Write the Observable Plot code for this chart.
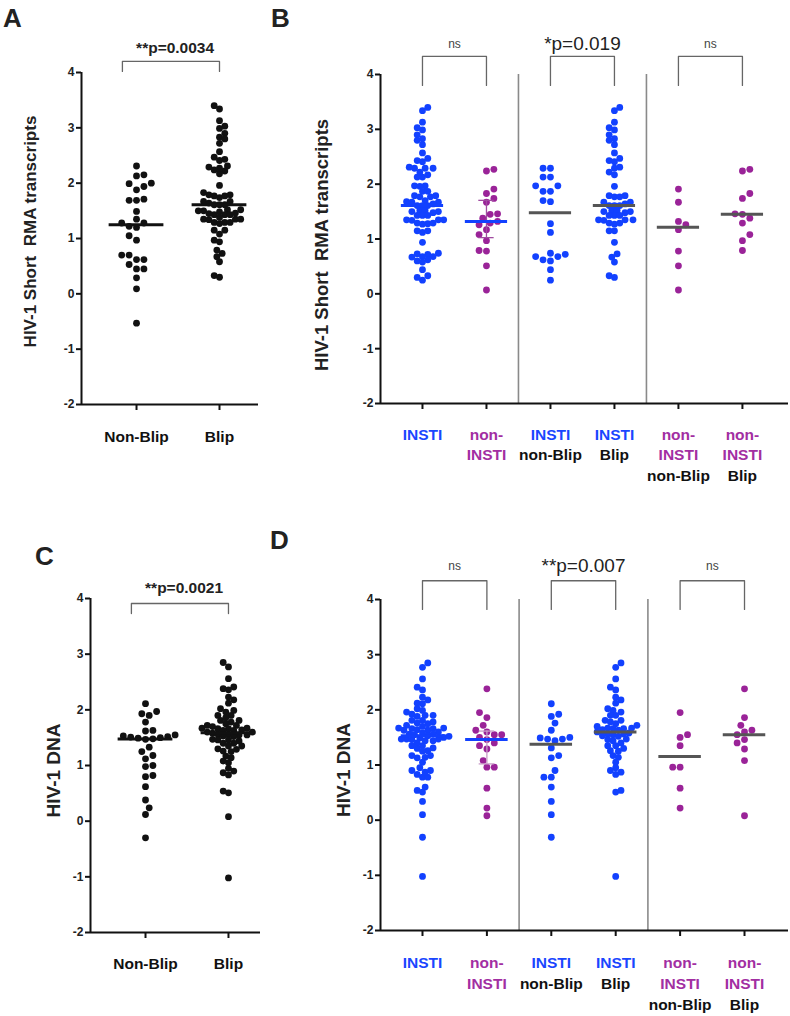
<!DOCTYPE html>
<html><head><meta charset="utf-8">
<script src="https://cdn.jsdelivr.net/npm/d3@7"></script>
<script src="https://cdn.jsdelivr.net/npm/@observablehq/plot@0.6"></script>
<style>
body{margin:0;background:#fff;font-family:"Liberation Sans",Arial,sans-serif;}
#fig{position:relative;width:790px;height:1016px;overflow:hidden;background:#fff;}
#fig svg{position:absolute;}
.letter{position:absolute;font-size:26px;font-weight:bold;line-height:1;color:#222;}
</style></head><body><div id="fig"></div>
<script>
// ---------- data ----------
const yTicks = [-2, -1, 0, 1, 2, 3, 4];
const overviewCats = ["Non-Blip", "Blip"];
const drugClass = ["INSTI", "non-INSTI", "INSTI", "INSTI", "non-INSTI", "non-INSTI"];
const blipStatus = [null, null, "non-Blip", "Blip", "non-Blip", "Blip"];

const rnaYLabel = "HIV-1 Short\u00a0 RMA transcripts";
const dnaYLabel = "HIV-1 DNA";
const rnaOverviewP = "**p=0.0034";
const dnaOverviewP = "**p=0.0021";
const rnaCompLabels = ["ns", "*p=0.019", "ns"];
const dnaCompLabels = ["ns", "**p=0.007", "ns"];

// HIV-1 short RNA transcripts
const rnaNonBlip = [2.31, 2.15, 2.13, 2.00, 1.99, 1.94, 1.88, 1.71, 1.69, 1.69, 1.49, 1.35, 1.28, 1.28, 1.22, 1.20, 1.05, 0.97, 0.70, 0.70, 0.62, 0.62, 0.53, 0.45, 0.45, 0.29, 0.09, -0.53];
const rnaInstiNonBlip = [2.29, 2.29, 2.13, 2.13, 1.97, 1.97, 1.87, 1.87, 1.70, 1.68, 1.28, 1.12, 0.74, 0.72, 0.68, 0.68, 0.62, 0.60, 0.44, 0.25];
const rnaInstiBlip = [3.40, 3.34, 3.13, 3.03, 2.99, 2.90, 2.83, 2.80, 2.72, 2.57, 2.47, 2.43, 2.41, 2.31, 2.29, 2.22, 2.17, 1.96, 1.79, 1.79, 1.77, 1.77, 1.67, 1.67, 1.64, 1.61, 1.61, 1.61, 1.52, 1.52, 1.50, 1.50, 1.48, 1.43, 1.43, 1.43, 1.35, 1.35, 1.35, 1.34, 1.29, 1.29, 1.27, 1.15, 1.15, 0.94, 0.73, 0.67, 0.58, 0.33, 0.30];
const rnaNonInstiNonBlip = [1.91, 1.67, 1.32, 1.26, 1.17, 0.78, 0.51, 0.07];
const rnaNonInstiBlip = [2.27, 2.24, 1.83, 1.74, 1.46, 1.45, 1.38, 1.29, 1.08, 0.97, 0.79];

// HIV-1 DNA
const dnaNonBlip = [2.11, 1.97, 1.93, 1.90, 1.78, 1.63, 1.62, 1.55, 1.53, 1.52, 1.51, 1.50, 1.49, 1.48, 1.47, 1.33, 1.25, 1.18, 1.12, 1.00, 0.98, 0.82, 0.80, 0.62, 0.38, 0.24, 0.12, -0.30];
const dnaInstiNonBlip = [2.11, 1.92, 1.88, 1.76, 1.63, 1.50, 1.49, 1.47, 1.47, 1.44, 1.31, 1.17, 1.13, 0.90, 0.78, 0.78, 0.60, 0.34, 0.10, -0.31];
const dnaInstiBlip = [2.85, 2.77, 2.56, 2.41, 2.36, 2.23, 2.18, 2.12, 2.02, 1.99, 1.96, 1.90, 1.90, 1.81, 1.81, 1.78, 1.75, 1.72, 1.70, 1.67, 1.67, 1.66, 1.66, 1.64, 1.63, 1.60, 1.58, 1.56, 1.56, 1.55, 1.53, 1.52, 1.47, 1.46, 1.44, 1.40, 1.35, 1.35, 1.30, 1.26, 1.25, 1.17, 1.14, 1.05, 0.95, 0.90, 0.87, 0.83, 0.54, 0.51, -1.02];
const dnaNonInstiNonBlip = [1.95, 1.55, 1.50, 1.35, 0.96, 0.96, 0.58, 0.22];
const dnaNonInstiBlip = [2.38, 1.86, 1.72, 1.63, 1.60, 1.55, 1.46, 1.40, 1.29, 1.08, 0.08];

// ---------- styling ----------
const BLUE = "#1241ff", PURPLE = "#9a2398", BLACK = "#111111", GRAY = "#555555";
const LBLUE = "#1a46ff", LPURPLE = "#a22ea2";
const FONT = "'Liberation Sans', Arial, sans-serif";

// simple beeswarm: grid step g, minimum centre distance m (pixels)
function swarm(vals, pxY, g, m) {
  const order = vals.map((_, i) => i).sort((a, b) => vals[a] - vals[b]);
  const placed = [], out = new Array(vals.length).fill(0);
  for (const i of order) {
    const y = vals[i] * pxY;
    let chosen = 0;
    outer: for (let k = 0; k < 80; k++) {
      const opts = k === 0 ? [0] : (placed.length % 2 ? [-k * g, k * g] : [k * g, -k * g]);
      for (const x of opts) {
        if (placed.every(p => (p.x - x) ** 2 + (p.y - y) ** 2 >= m * m)) { chosen = x; break outer; }
      }
    }
    placed.push({x: chosen, y}); out[i] = chosen;
  }
  return out;
}

function makePanel(cfg) {
  const pxY = (cfg.height - cfg.mt - cfg.mb) / 6;
  const pxX = (cfg.width - cfg.ml - cfg.mr) / (cfg.xDomain[1] - cfg.xDomain[0]);
  const dots = cfg.groups.flatMap((g, i) => {
    const m = g.values.length <= 30 ? 7.4 : 5.3;
    const off = swarm(g.values, pxY, m / 2, m);
    return g.values.map((v, j) => ({x: i + off[j] / pxX, y: v, c: g.color}));
  });
  const stats = cfg.groups.map((g, i) => {
    const s = d3.sort(g.values);
    return {x: i, med: d3.median(s), q1: d3.quantile(s, 0.25), q3: d3.quantile(s, 0.75), c: g.medColor, w: g.whisker};
  });
  const wh = stats.filter(s => s.w);
  const caps = wh.flatMap(s => [{x: s.x, y: s.q1, c: s.w}, {x: s.x, y: s.q3, c: s.w}]);
  const brk = cfg.brackets.flatMap((b, k) => [
    {k, x: b.a, y: cfg.bEnd}, {k, x: b.a, y: cfg.bTop}, {k, x: b.b, y: cfg.bTop}, {k, x: b.b, y: cfg.bEnd}]);
  const btext = cfg.brackets.map(b => ({x: (b.a + b.b) / 2 + (b.shift || 0), t: b.label, fs: b.fs, c: b.c}));
  const labelRows = cfg.labels.flatMap((lines, i) => lines.map((l, L) => ({x: i, L, t: l.t, c: l.c})));
  const marks = [
    Plot.ruleX(cfg.dividers, {x: d => d, y1: -2, y2: 4, stroke: "#8a8a8a", strokeWidth: 1.6}),
    Plot.dot(dots, {x: "x", y: "y", r: 3.4, fill: "c"}),
    Plot.ruleX(wh, {x: "x", y1: "q1", y2: "q3", stroke: "w", strokeWidth: 1.3}),
    Plot.ruleY(caps, {y: "y", x1: d => d.x - 0.12, x2: d => d.x + 0.12, stroke: "c", strokeWidth: 1.3}),
    Plot.ruleY(stats, {y: "med", x1: d => d.x - 0.33, x2: d => d.x + 0.33, stroke: "c", strokeWidth: 3}),
    Plot.ruleY([-2], {stroke: BLACK, strokeWidth: 2}),
    Plot.ruleX([cfg.xDomain[0]], {y1: -2, y2: 4, stroke: BLACK, strokeWidth: 2}),
    Plot.axisY({ticks: yTicks, tickFormat: d => String(d), tickSize: 5, tickPadding: 2, fontSize: 12, fontWeight: "bold", strokeWidth: 2, label: null, fill: "#222"}),
    Plot.axisX({ticks: d3.range(cfg.groups.length), tickFormat: () => "", tickSize: 6, strokeWidth: 2, label: null}),
    Plot.line(brk, {x: "x", y: "y", z: "k", stroke: "#666", strokeWidth: 1.3}),
    Plot.text(btext, {x: "x", y: () => cfg.tY, text: "t", fontSize: "fs", fontWeight: cfg.tWeight, fill: "c", lineAnchor: "middle"}),
    Plot.text([cfg.yLabel], {text: d => d, frameAnchor: "left", textAnchor: "middle", rotate: -90, dx: cfg.yDx, dy: cfg.yDy, fontSize: cfg.ySize, fontWeight: "bold", fill: "#222"})
  ];
  for (let L = 0; L < 3; L++) {
    const rows = labelRows.filter(r => r.L === L);
    if (rows.length) marks.push(Plot.text(rows, {x: "x", y: () => -2, dy: cfg.labelDy[L], text: "t", fill: "c", fontSize: cfg.labelSize, fontWeight: "bold", lineAnchor: "middle"}));
  }
  const svg = Plot.plot({
    width: cfg.width, height: cfg.height,
    marginLeft: cfg.ml, marginRight: cfg.mr, marginTop: cfg.mt, marginBottom: cfg.mb,
    x: {domain: cfg.xDomain},
    y: {domain: [-2, 4]},
    color: {type: "identity"},
    style: {fontFamily: FONT, color: BLACK, background: "transparent", overflow: "visible"},
    marks
  });
  svg.style.left = cfg.left + "px";
  svg.style.top = cfg.top + "px";
  return svg;
}

function detailGroups(base, whiskerColor) {
  return drugClass.map((dc, i) => {
    const color = dc === "INSTI" ? BLUE : PURPLE;
    const values = blipStatus[i] ? base[dc + "|" + blipStatus[i]] : [...base[dc + "|non-Blip"], ...base[dc + "|Blip"]];
    return {values, color, medColor: blipStatus[i] ? GRAY : BLUE, whisker: (!blipStatus[i] && dc !== "INSTI") ? whiskerColor : null};
  });
}
function detailLabels() {
  return drugClass.map((dc, i) => {
    const c = dc === "INSTI" ? LBLUE : LPURPLE;
    const lines = (dc.startsWith("non-") ? ["non-", dc.slice(4)] : [dc]).map(t => ({t, c}));
    if (blipStatus[i]) lines.push({t: blipStatus[i], c: "#111"});
    return lines;
  });
}

const rnaBase = {"INSTI|non-Blip": rnaInstiNonBlip, "INSTI|Blip": rnaInstiBlip, "non-INSTI|non-Blip": rnaNonInstiNonBlip, "non-INSTI|Blip": rnaNonInstiBlip};
const dnaBase = {"INSTI|non-Blip": dnaInstiNonBlip, "INSTI|Blip": dnaInstiBlip, "non-INSTI|non-Blip": dnaNonInstiNonBlip, "non-INSTI|Blip": dnaNonInstiBlip};
const ovLabels = overviewCats.map(t => [{t, c: "#111"}]);

const fig = document.getElementById("fig");

// Panel A
fig.appendChild(makePanel({
  left: 0, top: 0, width: 262, height: 495, ml: 81, mr: 4, mt: 72, mb: 91,
  xDomain: [-0.663, 1.47],
  groups: [
    {values: rnaNonBlip, color: BLACK, medColor: BLACK},
    {values: [...rnaInstiBlip, ...rnaNonInstiBlip], color: BLACK, medColor: BLACK}
  ],
  dividers: [],
  brackets: [{a: -0.17, b: 1, label: rnaOverviewP, fs: 15.5, c: "#222", shift: 0.05}],
  tWeight: "bold",
  bTop: 4.2, bEnd: 4.02, tY: 4.45,
  yLabel: rnaYLabel, ySize: 17, yDx: -51, yDy: -7,
  labels: ovLabels, labelDy: [33], labelSize: 15.5
}));
// Panel B
fig.appendChild(makePanel({
  left: 262, top: 0, width: 528, height: 495, ml: 118, mr: 2, mt: 74, mb: 92,
  xDomain: [-0.656, 5.72],
  groups: detailGroups(rnaBase, "#a04ca0"),
  dividers: [1.5, 3.5],
  brackets: rnaCompLabels.map((label, k) => ({a: 2 * k, b: 2 * k + 1, label, fs: label === "ns" ? 12 : 19, c: label === "ns" ? "#444" : "#222"})),
  tWeight: "normal",
  bTop: 4.33, bEnd: 3.8, tY: 4.55,
  yLabel: rnaYLabel, ySize: 18.5, yDx: -58, yDy: 6,
  labels: detailLabels(), labelDy: [32, 52, 73], labelSize: 15.5
}));
// Panel C
fig.appendChild(makePanel({
  left: 0, top: 505, width: 262, height: 511, ml: 90, mr: 2, mt: 93, mb: 84,
  xDomain: [-0.663, 1.386],
  groups: [
    {values: dnaNonBlip, color: BLACK, medColor: BLACK},
    {values: [...dnaInstiBlip, ...dnaNonInstiBlip], color: BLACK, medColor: BLACK}
  ],
  dividers: [],
  brackets: [{a: -0.17, b: 1, label: dnaOverviewP, fs: 15.5, c: "#222", shift: 0.05}],
  tWeight: "bold",
  bTop: 3.91, bEnd: 3.73, tY: 4.18,
  yLabel: dnaYLabel, ySize: 19, yDx: -37, yDy: 5,
  labels: ovLabels, labelDy: [32], labelSize: 15.5
}));
// Panel D
fig.appendChild(makePanel({
  left: 262, top: 505, width: 528, height: 511, ml: 118, mr: 2, mt: 94, mb: 86,
  xDomain: [-0.652, 5.683],
  groups: detailGroups(dnaBase, "#c79bc7"),
  dividers: [1.5, 3.5],
  brackets: dnaCompLabels.map((label, k) => ({a: 2 * k, b: 2 * k + 1, label, fs: label === "ns" ? 12 : 19, c: label === "ns" ? "#444" : "#222"})),
  tWeight: "normal",
  bTop: 4.34, bEnd: 3.82, tY: 4.6,
  yLabel: dnaYLabel, ySize: 19, yDx: -37, yDy: 5,
  labels: detailLabels(), labelDy: [33, 54, 75], labelSize: 15.5
}));

// Panel letters
[["A", 3, 5], ["B", 271, 5], ["C", 35, 543], ["D", 270, 527]].forEach(([t, x, y]) => {
  const el = document.createElement("div");
  el.className = "letter"; el.textContent = t;
  el.style.left = x + "px"; el.style.top = y + "px";
  fig.appendChild(el);
});
</script></body></html>
